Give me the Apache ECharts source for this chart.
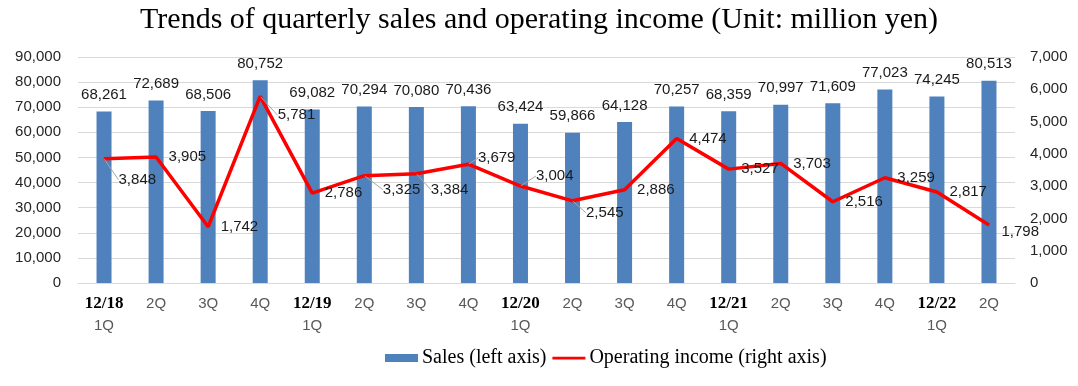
<!DOCTYPE html>
<html>
<head>
<meta charset="utf-8">
<script src="https://cdn.jsdelivr.net/npm/echarts@6/dist/echarts.min.js"></script>
<style>html,body{margin:0;padding:0;background:#fff}#c{width:1078px;height:386px}</style>
</head>
<body>
<div id="c"></div>
<script>
var categories = ['12/18 1Q','12/18 2Q','12/18 3Q','12/18 4Q','12/19 1Q','12/19 2Q','12/19 3Q','12/19 4Q','12/20 1Q','12/20 2Q','12/20 3Q','12/20 4Q','12/21 1Q','12/21 2Q','12/21 3Q','12/21 4Q','12/22 1Q','12/22 2Q'];
var sales = [68261,72689,68506,80752,69082,70294,70080,70436,63424,59866,64128,70257,68359,70997,71609,77023,74245,80513];
var operatingIncome = [3848,3905,1742,5781,2786,3325,3384,3679,3004,2545,2886,4474,3527,3703,2516,3259,2817,1798];
var leftTicks = {min:0, max:90000, interval:10000};
var rightTicks = {min:0, max:7000, interval:1000};

var lineLabelShift = {0:[2,21],3:[5,19],5:[6,14],6:[2,16],7:[-3,-6],8:[3,-10],9:[1,12]};

var chart = echarts.init(document.getElementById('c'));
chart.setOption({
  animation:false,
  title:{text:'Trends of quarterly sales and operating income (Unit: million yen)',left:'center',top:0,
    textStyle:{fontFamily:'Liberation Serif',fontSize:30,fontWeight:'normal',color:'#000'}},
  legend:{bottom:13,left:380,itemWidth:33,itemHeight:8,itemGap:6,
    textStyle:{fontFamily:'Liberation Serif',fontSize:20,color:'#000',padding:[0,0,0,-1]},
    data:[{name:'Sales (left axis)',icon:'rect'},{name:'Operating income (right axis)',icon:'path://M0,0H36V3H0Z'}]},
  grid:{left:78,right:63,top:57,bottom:103},
  xAxis:{type:'category',data:categories,
    axisLine:{show:true,lineStyle:{color:'#d9d9d9',width:1}},
    axisTick:{show:false},
    axisLabel:{interval:0,margin:10,
      formatter:function(v){var p=v.split(' ');return p[1]==='1Q'?'{y|'+p[0]+'}\n{q|1Q}':'{q|'+p[1]+'}';},
      rich:{y:{fontFamily:'Liberation Serif',fontWeight:'bold',fontSize:17,color:'#000',lineHeight:22},
            q:{fontFamily:'Liberation Sans',fontSize:15,color:'#595959',lineHeight:22}}}},
  yAxis:[
    {type:'value',min:leftTicks.min,max:leftTicks.max,interval:leftTicks.interval,
      axisLine:{show:false},axisTick:{show:false},
      splitLine:{lineStyle:{color:'#d9d9d9',width:1}},
      axisLabel:{fontFamily:'Liberation Sans',fontSize:15,color:'#262626',margin:17,
        formatter:function(v){return v.toLocaleString('en-US');}}},
    {type:'value',min:rightTicks.min,max:rightTicks.max,interval:rightTicks.interval,
      axisLine:{show:false},axisTick:{show:false},splitLine:{show:false},
      axisLabel:{fontFamily:'Liberation Sans',fontSize:15,color:'#262626',margin:15,
        formatter:function(v){return v.toLocaleString('en-US');}}}
  ],
  series:[
    {name:'Sales (left axis)',type:'bar',yAxisIndex:0,data:sales,barWidth:15,
      itemStyle:{color:'#4F81BD'},
      label:{show:true,position:'top',distance:9,fontFamily:'Liberation Sans',fontSize:15,color:'#1a1a1a',
        formatter:function(p){return p.value.toLocaleString('en-US');}}},
    {name:'Operating income (right axis)',type:'line',yAxisIndex:1,
      data:operatingIncome.map(function(v,i){return {value:v,labelLine:{show:!!lineLabelShift[i]}};}),
      symbol:'circle',symbolSize:1,showSymbol:true,z:5,
      lineStyle:{color:'#ff0000',width:3.5},itemStyle:{color:'#ff0000'},
      label:{show:true,position:'right',distance:12,fontFamily:'Liberation Sans',fontSize:15,color:'#1a1a1a',
        formatter:function(p){return p.value.toLocaleString('en-US');}},
      labelLine:{show:false,lineStyle:{color:'#a6a6a6',width:1}},
      labelLayout:function(params){var s=lineLabelShift[params.dataIndex];return s?{dx:s[0],dy:s[1]}:(params.dataIndex===17?{dy:7}:{});}}
  ]
});
</script>
</body>
</html>
